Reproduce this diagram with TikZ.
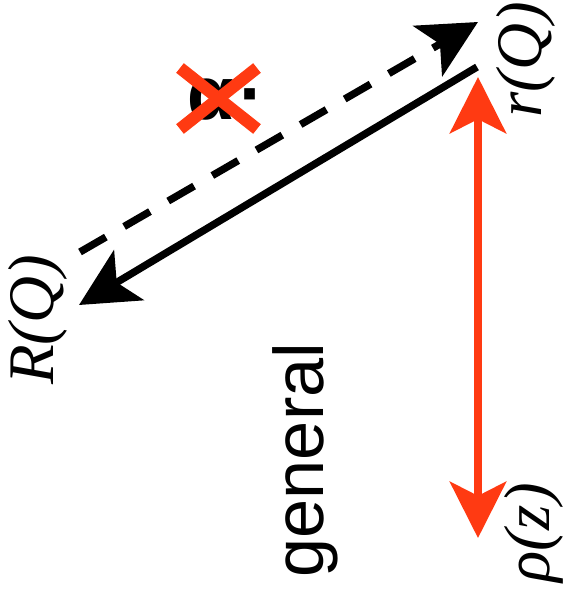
\documentclass[tikz,border=0pt]{standalone}
\usepackage{fontspec}
\setmainfont{Liberation Serif}
\setsansfont{Liberation Sans}
\usepackage{tikz}
\usetikzlibrary{arrows.meta, positioning, calc}
\definecolor{qblack}{HTML}{000000}
\definecolor{qred}{HTML}{FF3A12}
\tikzset{
  lbl/.style={rotate=90, inner sep=0pt, text=qblack, font=\fontsize{37}{37}\selectfont\itshape},
  word/.style={rotate=90, inner sep=0pt, text=qblack, font=\fontsize{40}{40}\selectfont\sffamily},
  flow/.style={-{Stealth[length=33pt, width=33pt, inset=8pt]}, draw=qblack, line width=4.2pt},
  dashflow/.style={flow, dash pattern=on 17pt off 12pt},
  redflow/.style={{Stealth[length=32pt, width=32pt, inset=8pt]}-{Stealth[length=32pt, width=32pt, inset=8pt]}, draw=qred, line width=4.5pt},
  cross/.style={draw=qred, line width=7pt}
}

\begin{document}
\begin{tikzpicture}[x=0.02cm, y=-0.02cm]
  \useasboundingbox (0,0) rectangle (566,599);

  \node[lbl] (rQ) at (526,60) {r(Q)};
  \node[lbl] (RQ) at (38,320) {R(Q)};
  \node[lbl] (rho) at (534,533) {ρ(z)};
  \node[word] (gen) at (305,460) {general};
  \node[inner sep=0pt, font=\fontsize{43}{43}\selectfont\sffamily\bfseries] (alpha) at (226,100) {α\hspace{3pt}·};

  \coordinate (dstart) at (80,252);
  \coordinate (dend) at (478,22);
  \coordinate (sstart) at (477,67);
  \coordinate (send) at (79,305);
  \coordinate (rtop) at (478,77);
  \coordinate (rbot) at (478,538);

  \draw[dashflow] (dstart) -- (dend);
  \draw[flow] (sstart) -- (send);
  \draw[redflow] (rtop) -- (rbot);

  \draw[cross] (180,68) -- (257,129);
  \draw[cross] (180,129) -- (257,68);
\end{tikzpicture}
\end{document}
